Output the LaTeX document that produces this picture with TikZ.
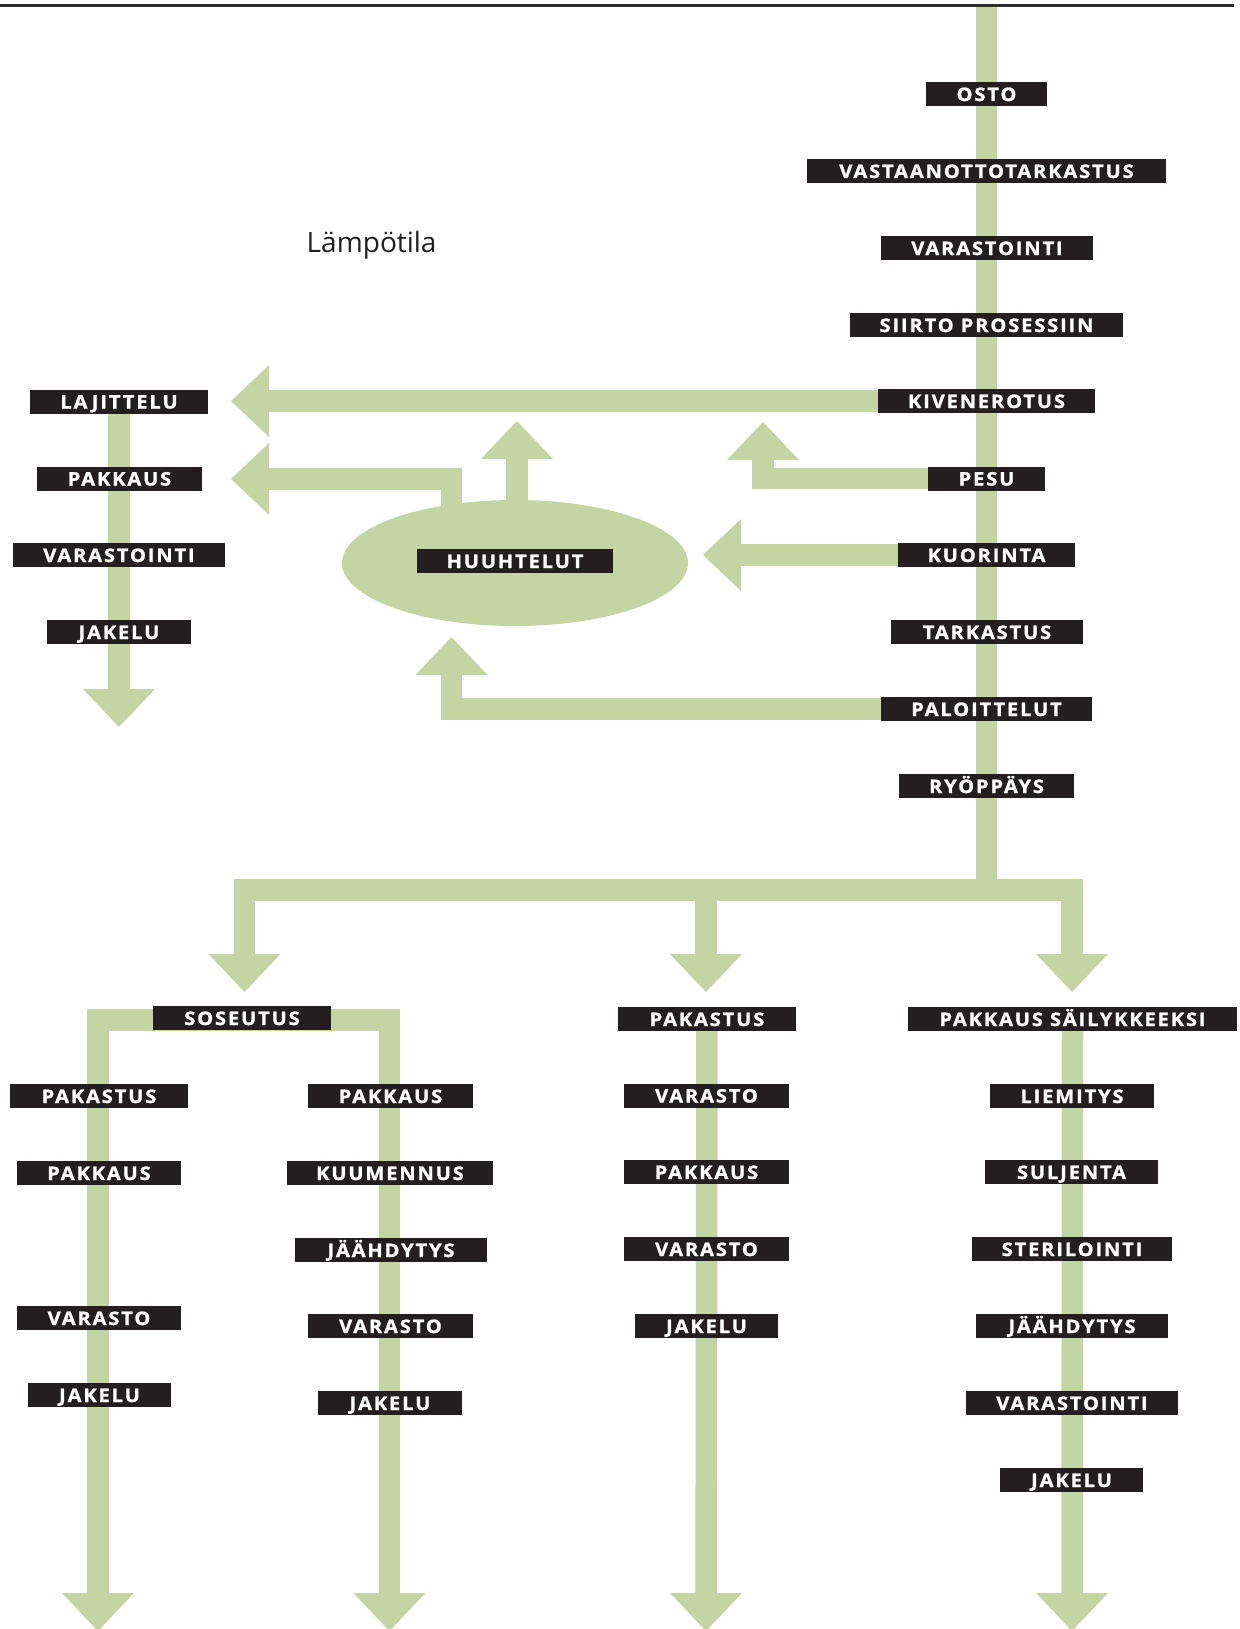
\documentclass[tikz,border=0pt]{standalone}
\usepackage{fontspec}
\setmainfont{Open Sans}
\newfontfamily\lblfont{Open Sans}[LetterSpace=10,FakeStretch=1.08,FakeBold=1.2]
\usetikzlibrary{arrows.meta,shapes.geometric}
\definecolor{grn}{RGB}{196,212,163}
\definecolor{boxc}{RGB}{35,31,32}
\definecolor{rulec}{RGB}{45,43,44}
\pgfdeclarelayer{bg}
\pgfsetlayers{bg,main}
\tikzset{
  lbl/.style={fill=boxc, text=white, inner sep=0pt, minimum height=24pt,
    text height=14pt, text depth=0pt,
    font={\lblfont\bfseries\fontsize{18.6pt}{19pt}\selectfont}},
  bar/.style={draw=grn, line width=21.5pt, line join=miter, line cap=butt},
  hd/.style={-{Triangle[width=72pt,length=38pt,line width=0pt]}},
  hdboth/.style={{Triangle[width=72pt,length=38pt,line width=0pt]}-{Triangle[width=72pt,length=38pt,line width=0pt]}}
}
\begin{document}
\begin{tikzpicture}[x=1pt,y=-1pt]
\useasboundingbox (0,0) rectangle (1239,1629);
% top rule
\coordinate (ruleL) at (0,5.5);
\coordinate (ruleR) at (1234,5.5);
\draw[rulec, line width=3pt] (ruleL) -- (ruleR);
% title
\node[anchor=base west, inner sep=0pt, text=boxc, font={\fontsize{28pt}{32pt}\selectfont}] (lamp) at (306.5,252.7) {Lämpötila};
% main column
\node[lbl,minimum width=121pt] (osto) at (986.5,94) {OSTO};
\node[lbl,minimum width=359pt] (vast) at (986.5,171) {VASTAANOTTOTARKASTUS};
\node[lbl,minimum width=212pt] (var1) at (987,248) {VARASTOINTI};
\node[lbl,minimum width=273pt] (siirto) at (986.5,325) {SIIRTO PROSESSIIN};
\node[lbl,minimum width=217pt] (kive) at (986.5,401) {KIVENEROTUS};
\node[lbl,minimum width=117pt] (pesu) at (986.5,478.5) {PESU};
\node[lbl,minimum width=177pt] (kuor) at (986.5,555) {KUORINTA};
\node[lbl,minimum width=192pt] (tark) at (987,632) {TARKASTUS};
\node[lbl,minimum width=211pt] (palo) at (986.5,709) {PALOITTELUT};
\node[lbl,minimum width=175pt] (ryo) at (986.5,786) {RYÖPPÄYS};
% left column
\node[lbl,minimum width=178pt] (laj) at (119,401.5) {LAJITTELU};
\node[lbl,minimum width=165pt] (lpak) at (119.5,478.5) {PAKKAUS};
\node[lbl,minimum width=212pt] (lvar) at (119,555) {VARASTOINTI};
\node[lbl,minimum width=144pt] (ljak) at (119,632) {JAKELU};
% ellipse
\node[ellipse, fill=grn, inner sep=0pt, minimum width=346pt, minimum height=126pt] (ell) at (515,563) {};
\node[lbl,minimum width=196pt] (huuh) at (515,561) {HUUHTELUT};
% soseutus
\node[lbl,minimum width=178pt] (sos) at (242,1018) {SOSEUTUS};
\node[lbl,minimum width=178pt] (aPak) at (99,1096) {PAKASTUS};
\node[lbl,minimum width=164pt] (aPkk) at (99,1173) {PAKKAUS};
\node[lbl,minimum width=164pt] (aVar) at (99,1318) {VARASTO};
\node[lbl,minimum width=143pt] (aJak) at (99.5,1395) {JAKELU};
\node[lbl,minimum width=165pt] (bPkk) at (390.5,1096) {PAKKAUS};
\node[lbl,minimum width=206pt] (bKuu) at (390,1173) {KUUMENNUS};
\node[lbl,minimum width=192pt] (bJaa) at (391,1250) {JÄÄHDYTYS};
\node[lbl,minimum width=165pt] (bVar) at (390.5,1326) {VARASTO};
\node[lbl,minimum width=144pt] (bJak) at (390,1403) {JAKELU};
% middle column
\node[lbl,minimum width=178pt] (cPak) at (707,1019) {PAKASTUS};
\node[lbl,minimum width=165pt] (cVar) at (706.5,1095.5) {VARASTO};
\node[lbl,minimum width=165pt] (cPkk) at (706.5,1172) {PAKKAUS};
\node[lbl,minimum width=165pt] (cVar2) at (706.5,1249) {VARASTO};
\node[lbl,minimum width=143pt] (cJak) at (706.5,1326) {JAKELU};
% right column
\node[lbl,minimum width=329pt] (dPak) at (1072.5,1019) {PAKKAUS SÄILYKKEEKSI};
\node[lbl,minimum width=164pt] (dLie) at (1072,1096) {LIEMITYS};
\node[lbl,minimum width=173pt] (dSul) at (1071.5,1172) {SULJENTA};
\node[lbl,minimum width=200pt] (dSte) at (1072,1249) {STERILOINTI};
\node[lbl,minimum width=192pt] (dJaa) at (1072,1326) {JÄÄHDYTYS};
\node[lbl,minimum width=212pt] (dVar) at (1072,1403) {VARASTOINTI};
\node[lbl,minimum width=143pt] (dJak) at (1071.5,1480) {JAKELU};
% coordinates
\coordinate (topc) at (986.5,7);
\coordinate (split) at (986.5,890);
\coordinate (tKive) at (231,401);
\coordinate (tLaj) at (119,727);
\coordinate (tPesu) at (763,422);
\coordinate (tKuor) at (703,555);
\coordinate (tPalo) at (451.5,637);
\coordinate (tUp) at (517,421);
\coordinate (tLeft) at (231,479);
\coordinate (eLeft) at (451.5,563);
\coordinate (tSos) at (244.5,992);
\coordinate (tMid) at (706,992);
\coordinate (tRight) at (1072,992);
\coordinate (sosR) at (389.5,1020);
\coordinate (tA) at (98,1631);
\coordinate (tB) at (389.5,1631);
\coordinate (tC) at (706,1631);
\coordinate (tD) at (1072,1631);
\begin{pgfonlayer}{bg}
\draw[bar] (topc) -- (split);
\draw[bar,hd] (kive) -- (tKive);
\draw[bar,hd] (laj) -- (tLaj);
\draw[bar,hd] (pesu.center) -| (tPesu);
\draw[bar,hd] (kuor) -- (tKuor);
\draw[bar,hd] (palo.center) -| (tPalo);
\draw[bar,hd] (ell.center -| tUp) -- (tUp);
\draw[bar,hd] (eLeft) |- (tLeft);
\draw[bar,hd] (split) -| (tSos);
\draw[bar,hd] (split -| tMid) -- (tMid);
\draw[bar,hd] (split) -| (tRight);
\draw[bar,hdboth] (tA) |- (sosR) -- (tB);
\draw[bar,hd] (cPak) -- (tC);
\draw[bar,hd] (dPak) -- (tD);
\end{pgfonlayer}
\end{tikzpicture}
\end{document}
